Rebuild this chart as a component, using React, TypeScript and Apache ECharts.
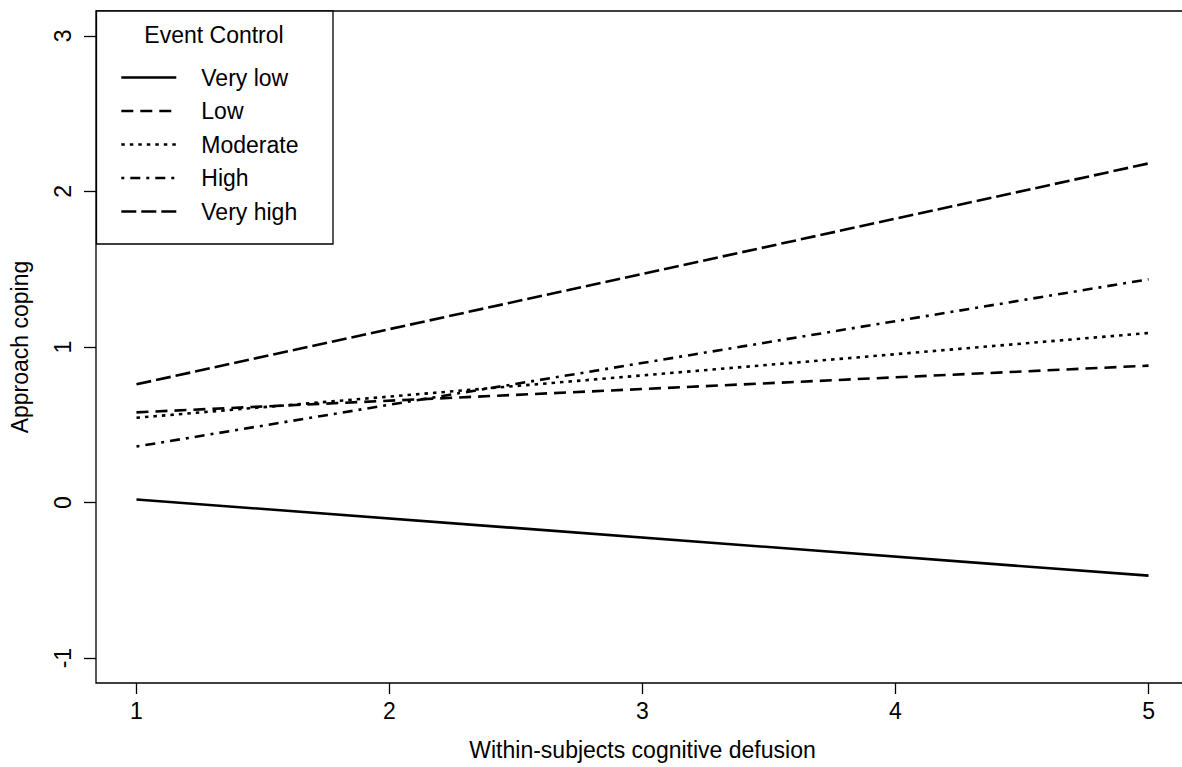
import React, { useEffect, useRef } from "react";
import * as echarts from "echarts";

const xValues = [1, 5];
const xTicks = [1, 2, 3, 4, 5];
const yTicks = [-1, 0, 1, 2, 3];
const seriesNames = ["Very low", "Low", "Moderate", "High", "Very high"];
const veryLow = [0.02, -0.47];
const low = [0.58, 0.88];
const moderate = [0.545, 1.09];
const high = [0.36, 1.435];
const veryHigh = [0.76, 2.18];
const legendTitle = "Event Control";
const xTitle = "Within-subjects cognitive defusion";
const yTitle = "Approach coping";

const FONT = "'Liberation Sans', Arial, sans-serif";
const FS = 23;

export default function App() {
  const ref = useRef<HTMLDivElement>(null);
  useEffect(() => {
    if (!ref.current) return;
    const chart = echarts.init(ref.current, undefined, { renderer: "svg" });
    const values = [veryLow, low, moderate, high, veryHigh];
    const dashes: any[] = ["solid", [12, 7], [3.5, 5], [3, 6, 10, 6], [15, 5]];
    const series = seriesNames.map((name, i) => ({
      name,
      type: "line",
      data: xValues.map((x, j) => [x, values[i][j]]),
      symbol: "none",
      lineStyle: { color: "#000", width: 2.6, type: dashes[i] },
      itemStyle: { color: "#000" },
    }));
    chart.setOption({
      animation: false,
      backgroundColor: "#fff",
      textStyle: { fontFamily: FONT },
      grid: {
        left: 96,
        top: 11,
        right: 11,
        bottom: 84,
        show: true,
        borderColor: "#000",
        borderWidth: 1.3,
        backgroundColor: "transparent",
      },
      xAxis: {
        type: "value",
        min: 0.84,
        max: 5.16,
        name: xTitle,
        nameLocation: "middle",
        nameGap: 55,
        nameTextStyle: { fontSize: FS, color: "#000", fontFamily: FONT },
        axisLine: { show: false, onZero: false },
        splitLine: { show: false },
        axisTick: { show: true, length: 11, customValues: xTicks, lineStyle: { color: "#000", width: 1.3 } },
        axisLabel: { customValues: xTicks, fontSize: FS, color: "#000", margin: 16, fontFamily: FONT },
      },
      yAxis: {
        type: "value",
        min: -1.16,
        max: 3.16,
        name: yTitle,
        nameLocation: "middle",
        nameGap: 65,
        nameTextStyle: { fontSize: FS, color: "#000", fontFamily: FONT },
        axisLine: { show: false, onZero: false },
        splitLine: { show: false },
        axisTick: { show: true, length: 12, customValues: yTicks, lineStyle: { color: "#000", width: 1.3 } },
        axisLabel: { customValues: yTicks, fontSize: FS, color: "#000", margin: 22, rotate: 90, fontFamily: FONT },
      },
      legend: {
        orient: "vertical",
        left: 120,
        top: 66,
        itemWidth: 55,
        itemHeight: 22,
        itemGap: 10.5,
        padding: 0,
        data: seriesNames,
        itemStyle: { opacity: 0 },
        lineStyle: { width: 2.6 },
        textStyle: { fontSize: FS, color: "#000", fontFamily: FONT, padding: [0, 0, 0, 20] },
      },
      graphic: [
        {
          type: "rect",
          shape: { x: 96.5, y: 11, width: 236.5, height: 233 },
          style: { fill: "#fff", stroke: "#000", lineWidth: 1.3 },
          z: 0,
          silent: true,
        },
        {
          type: "text",
          x: 214,
          y: 35,
          style: {
            text: legendTitle,
            fontSize: FS,
            fontFamily: FONT,
            fill: "#000",
            align: "center",
            verticalAlign: "middle",
          },
          z: 1,
        },
      ],
      series,
    });
    return () => chart.dispose();
  }, []);
  return (
    <div
      ref={ref}
      style={{ position: "fixed", left: 0, top: 0, width: 1200, height: 767, background: "#fff" }}
    />
  );
}
